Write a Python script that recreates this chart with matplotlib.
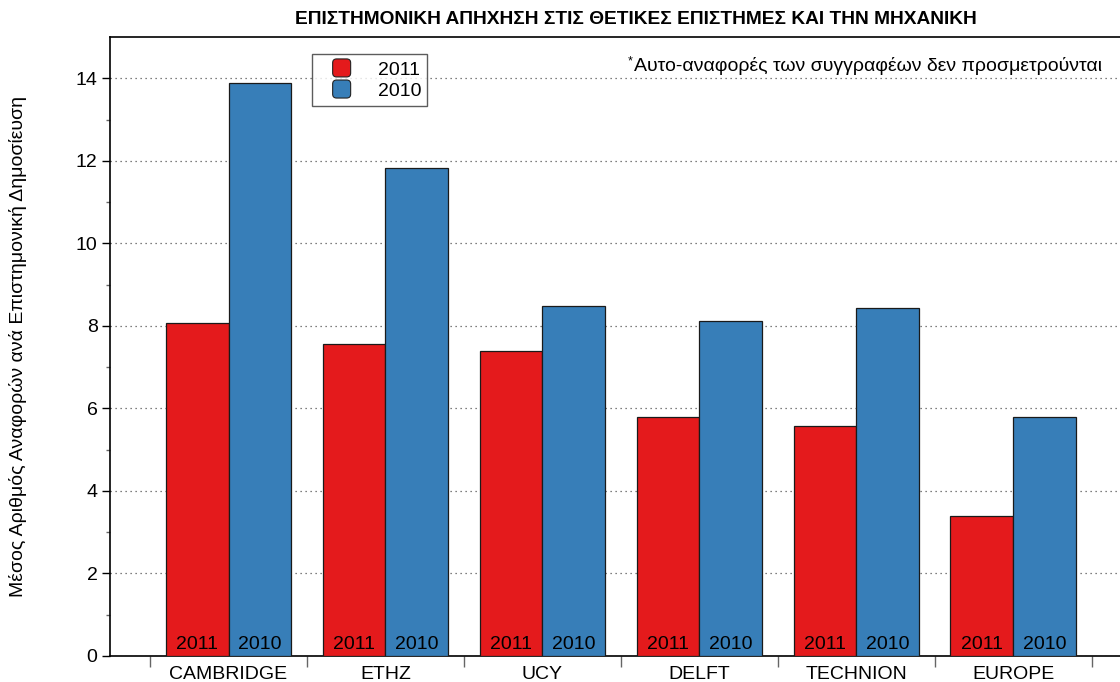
import matplotlib
matplotlib.use("Agg")
import matplotlib.pyplot as plt
from matplotlib.patches import FancyBboxPatch, Patch
from matplotlib.legend_handler import HandlerPatch
import numpy as np

plt.rcParams['font.family'] = ['Liberation Sans', 'DejaVu Sans']

categories = ["CAMBRIDGE", "ETHZ", "UCY", "DELFT", "TECHNION", "EUROPE"]
values_2011 = [8.06, 7.57, 7.38, 5.80, 5.58, 3.40]
values_2010 = [13.88, 11.82, 8.47, 8.13, 8.44, 5.78]
series_labels = ["2011", "2010"]
title = "ΕΠΙΣΤΗΜΟΝΙΚΗ ΑΠΗΧΗΣΗ ΣΤΙΣ ΘΕΤΙΚΕΣ ΕΠΙΣΤΗΜΕΣ ΚΑΙ ΤΗΝ ΜΗΧΑΝΙΚΗ"
ylabel = "Μέσος Αριθμός Αναφορών ανά Επιστημονική Δημοσίευση"
note = "Αυτο-αναφορές των συγγραφέων δεν προσμετρούνται"

RED = "#E41A1C"
BLUE = "#377EB8"
FS = 14

fig = plt.figure(figsize=(11.2, 6.82), dpi=100)
ax = fig.add_axes([110/1120, 1 - 656/682, 1010/1120, 619/682])

x = np.arange(len(categories))
w = 0.4
ax.bar(x - w/2, values_2011, w, color=RED, edgecolor="#1a1a1a", linewidth=0.9, zorder=3)
ax.bar(x + w/2, values_2010, w, color=BLUE, edgecolor="#1a1a1a", linewidth=0.9, zorder=3)

for xi in x:
    ax.text(xi - w/2, 0.08, series_labels[0], ha="center", va="bottom", fontsize=FS, zorder=4)
    ax.text(xi + w/2, 0.08, series_labels[1], ha="center", va="bottom", fontsize=FS, zorder=4)

ax.set_xlim(-0.755, 5.68)
ax.set_ylim(0, 15)
ax.set_yticks(np.arange(0, 15, 2))
ax.set_yticks(np.arange(1, 15, 2), minor=True)
ax.yaxis.grid(True, which="major", linestyle=(0, (1, 3)), color="#555555", linewidth=0.9, zorder=0)

ax.set_xticks(np.arange(-0.5, 6.0, 1.0))
ax.set_xticklabels([])
ax.set_xticks(x, minor=True)
ax.set_xticklabels(categories, minor=True, fontsize=FS)
ax.tick_params(axis="x", which="major", direction="out", length=8, width=1, color="#666666")
ax.tick_params(axis="x", which="minor", length=0, pad=7)
ax.tick_params(axis="y", which="major", direction="out", length=6, width=1, labelsize=FS, pad=3)
ax.tick_params(axis="y", which="minor", direction="out", length=3, width=1, color="#666666")

ax.spines["right"].set_visible(False)
for s in ["left", "top", "bottom"]:
    ax.spines[s].set_linewidth(1.2)

ax.set_ylabel(ylabel, fontsize=FS)
ax.yaxis.set_label_coords((27 - 110) / 1010, 0.5)
fig.text(636/1120, 1 - 20/682, title, ha="center", va="center", fontsize=13.8, fontweight="bold")

nt = fig.text(1102/1120, 1 - 66/682, note, ha="right", va="center", fontsize=FS)
fig.canvas.draw()
bb = nt.get_window_extent()
fig.text((bb.x0 - 1) / 1120, (bb.y1 + 2) / 682, "*", ha="right", va="top", fontsize=9)

class RoundHandler(HandlerPatch):
    def create_artists(self, legend, orig_handle, xdescent, ydescent, width, height, fontsize, trans):
        s = 18 * 72 / 100
        cx = -xdescent + width / 2
        cy = -ydescent + height / 2
        p = FancyBboxPatch((cx - s/2, cy - s/2), s, s,
                           boxstyle="round,pad=0,rounding_size=%f" % (s * 0.22),
                           facecolor=orig_handle.get_facecolor(),
                           edgecolor="#222222", linewidth=0.8, transform=trans)
        return [p]

handles = [Patch(facecolor=RED), Patch(facecolor=BLUE)]
leg = ax.legend(handles, series_labels, loc="upper left", bbox_to_anchor=(0.2, 0.9725),
                fontsize=FS, frameon=True, fancybox=False, edgecolor="#333333",
                handler_map={Patch: RoundHandler()}, handlelength=2.45, handletextpad=0.65,
                borderpad=0.3, labelspacing=0.12, borderaxespad=0, handleheight=0.9)
leg.get_frame().set_linewidth(1.0)

fig.savefig("out.png", dpi=100)
